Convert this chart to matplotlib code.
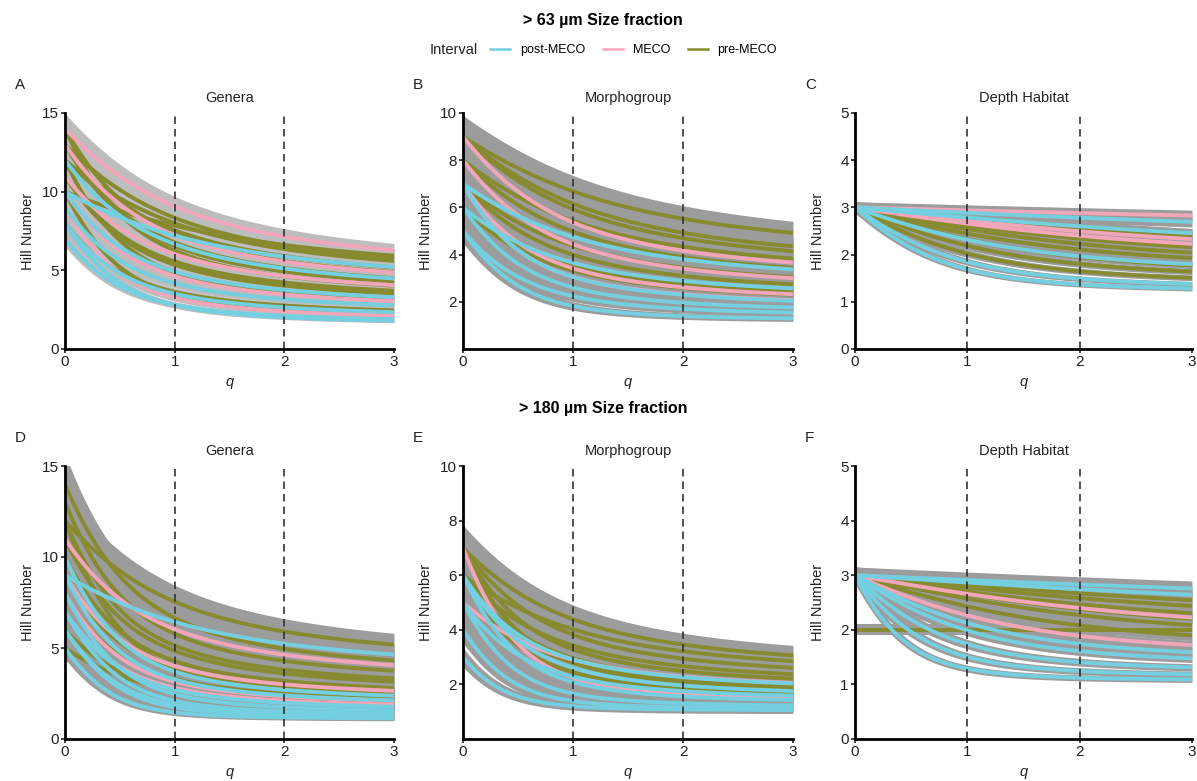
import numpy as np
import matplotlib.pyplot as plt
from matplotlib.lines import Line2D

plt.rcParams['font.family'] = ['Liberation Sans', 'DejaVu Sans']

# eixo q dos perfis de Hill
Q = np.linspace(0, 3, 121)

INTERVALS = ['post-MECO', 'MECO', 'pre-MECO']

# ---- contagens por amostra (> 63 um) ----
GEN63_POST = [
    [100, 35, 12, 4, 2, 1, 1],
    [100, 45, 20, 9, 4, 2, 1, 1],
    [100, 52, 27, 14, 7, 4, 2, 1, 1],
    [100, 58, 34, 20, 11, 7, 4, 2, 1, 1],
    [100, 73, 53, 39, 28, 21, 15, 11, 8, 6],
    [100, 68, 46, 31, 21, 14, 10, 7, 5, 3, 2, 1],
    [100, 30, 10, 4, 2, 1, 1, 1],
]
GEN63_MECO = [
    [100, 40, 16, 6, 3, 1, 1, 1, 1],
    [100, 55, 30, 17, 9, 5, 3, 2, 1, 1],
    [100, 65, 42, 27, 18, 12, 8, 5, 3, 2, 1],
    [100, 70, 49, 34, 24, 17, 12, 8, 6, 4, 3, 2, 1],
    [100, 76, 58, 44, 34, 26, 20, 15, 12, 9, 7, 5, 4, 3],
]
GEN63_PRE = [
    [100, 48, 22, 10, 5, 2, 1, 1],
    [100, 42, 18, 8, 3, 1, 1, 1, 1, 1],
    [100, 55, 30, 17, 9, 5, 3, 2, 1, 1, 1, 1],
    [100, 60, 36, 22, 13, 8, 5, 3, 2, 1, 1],
    [100, 62, 38, 24, 15, 9, 6, 4, 2, 1, 1],
    [100, 66, 44, 29, 19, 13, 8, 6, 4, 3, 2, 1, 1],
    [100, 70, 49, 34, 24, 17, 12, 8, 6, 4, 3, 2, 1, 1],
    [100, 72, 52, 37, 27, 19, 14, 10, 7, 5, 4, 3],
    [100, 74, 55, 41, 30, 22, 16, 12, 9, 7, 5, 4],
    [100, 75, 56, 42, 31, 23, 17, 13, 10, 7, 5, 4, 3],
    [100, 77, 59, 45, 35, 27, 21, 16, 12, 9],
    [100, 64, 41, 26, 17, 11, 7, 5, 3, 2, 1, 1, 1, 1],
    [100, 68, 46, 31, 21, 14, 10, 7, 5, 3, 2, 1, 1],
]

MOR63_POST = [
    [100, 12, 4, 2, 1],
    [100, 22, 8, 3, 1],
    [100, 30, 10, 4, 2, 1],
    [100, 38, 15, 6, 3, 1, 1],
    [100, 50, 25, 12, 6, 3],
    [100, 60, 36, 22, 13, 8, 5],
]
MOR63_MECO = [
    [100, 40, 15, 6, 3, 1, 1],
    [100, 45, 20, 9, 4, 2, 1],
    [100, 55, 30, 17, 9, 5, 3, 2],
    [100, 62, 38, 24, 15, 9, 6, 4, 2],
]
MOR63_PRE = [
    [100, 45, 20, 9, 4, 2],
    [100, 48, 23, 11, 5, 3],
    [100, 52, 27, 14, 7, 4, 2],
    [100, 56, 31, 18, 10, 6, 3],
    [100, 60, 36, 22, 13, 8, 5, 3],
    [100, 64, 41, 26, 17, 11, 7, 5],
    [100, 68, 46, 31, 21, 14, 10, 7, 5],
    [100, 72, 52, 37, 27, 19, 14, 10, 7],
    [100, 66, 44, 29, 19, 13, 8, 6, 4],
]

DEP63_POST = [[100, 70, 50], [100, 12, 6], [100, 16, 8], [100, 35, 15], [100, 55, 40]]
DEP63_MECO = [[100, 80, 60], [100, 50, 35], [100, 48, 30]]
DEP63_PRE = [[100, 22, 10], [100, 26, 14], [100, 30, 18], [100, 38, 20],
             [100, 40, 25], [100, 45, 28], [100, 55, 35], [100, 58, 38]]

# ---- contagens por amostra (> 180 um) ----
GEN180_POST = [
    [100, 5, 2, 1, 1],
    [100, 8, 3, 2, 1, 1],
    [100, 15, 5, 2, 1, 1, 1],
    [100, 22, 7, 3, 1, 1, 1, 1],
    [100, 30, 10, 4, 2, 1, 1],
    [100, 40, 16, 6, 3, 1, 1, 1, 1],
    [100, 45, 20, 9, 4, 2, 1, 1, 1, 1],
    [100, 70, 49, 34, 24, 17, 12, 8, 6],
    [100, 12, 4, 2, 1, 1],
]
GEN180_MECO = [
    [100, 35, 12, 4, 2, 1, 1],
    [100, 50, 25, 12, 6, 3, 2, 1, 1],
    [100, 65, 42, 27, 18, 12, 8, 5, 3, 2, 1],
    [100, 40, 15, 6, 3, 1, 1, 1],
]
GEN180_PRE = [
    [100, 36, 13, 5, 2],
    [100, 42, 18, 8, 3, 1, 1, 1],
    [100, 48, 23, 11, 5, 3, 1, 1, 1],
    [100, 52, 27, 14, 7, 4, 2, 1, 1, 1],
    [100, 56, 31, 18, 10, 6, 3, 2, 1, 1, 1],
    [100, 58, 34, 20, 11, 7, 4, 2, 1, 1, 1, 1],
    [100, 62, 38, 24, 15, 9, 6, 4, 2, 1, 1, 1, 1],
    [100, 66, 44, 29, 19, 13, 8, 6, 4, 3, 2, 1, 1, 1],
    [100, 72, 52, 37, 27, 19, 14, 10, 7, 5, 4, 3],
    [100, 45, 20, 9, 4, 2, 1, 1, 1, 1, 1, 1],
    [100, 30, 12, 5, 2, 1],
]

MOR180_POST = [
    [100, 3, 1],
    [100, 5, 2, 1],
    [100, 10, 3, 1, 1],
    [100, 18, 5, 2, 1, 1],
    [100, 25, 8, 3, 1],
    [100, 30, 10, 4, 2, 1],
    [100, 40, 15, 6, 2, 1],
]
MOR180_MECO = [[100, 20, 6, 2, 1, 1, 1], [100, 40, 16, 6, 3]]
MOR180_PRE = [
    [100, 28, 9, 3, 1, 1],
    [100, 33, 12, 4, 2, 1, 1],
    [100, 38, 15, 6, 3, 1],
    [100, 42, 18, 8, 3, 2, 1],
    [100, 46, 21, 10, 5, 2],
    [100, 50, 25, 12, 6, 3, 2],
    [100, 54, 29, 16, 9, 5],
    [100, 56, 32, 18, 10, 6, 3],
    [100, 35, 14, 6, 3],
]

DEP180_POST = [[100, 72, 55], [100, 65, 48], [100, 25, 12], [100, 20, 10],
               [100, 14, 6], [100, 8, 4], [100, 4, 2]]
DEP180_MECO = [[100, 48, 30], [100, 30, 15]]
DEP180_PRE = [[100, 100], [100, 36, 20], [100, 42, 26], [100, 46, 30],
              [100, 52, 32], [100, 56, 38], [100, 62, 42]]

# largura relativa da faixa de incerteza por painel
BAND_A, BAND_B, BAND_C = 0.07, 0.10, 0.04
BAND_D, BAND_E, BAND_F = 0.12, 0.12, 0.05

CORES = {'post-MECO': '#74cfe0', 'MECO': '#f2a6b9', 'pre-MECO': '#878a2f'}
CINZA = '#9c9c9c'
CINZA_CLARO = '#bdbdbd'

W, H = 1197, 781


def hill_profile(counts, q_values):
    """Numero de Hill de ordem q para um vetor de contagens"""
    p = np.asarray(counts, dtype=float)
    p = p[p > 0]
    p = p / p.sum()
    perfil = []
    for q in q_values:
        if np.isclose(q, 1.0):
            perfil.append(np.exp(-np.sum(p * np.log(p))))
        else:
            perfil.append(np.sum(p ** q) ** (1.0 / (1.0 - q)))
    return np.array(perfil)


def caixa(x0, x1, y_top, y_bot):
    return [x0 / W, 1 - y_bot / H, (x1 - x0) / W, (y_bot - y_top) / H]


colunas = [(65, 394), (463, 793), (855, 1192)]
linhas = [(113, 349), (466, 739)]

paineis = [
    ('A', 'Genera', 0, 0, (GEN63_POST, GEN63_MECO, GEN63_PRE), BAND_A, CINZA_CLARO, 15, [0, 5, 10, 15]),
    ('B', 'Morphogroup', 0, 1, (MOR63_POST, MOR63_MECO, MOR63_PRE), BAND_B, CINZA, 10, [2, 4, 6, 8, 10]),
    ('C', 'Depth Habitat', 0, 2, (DEP63_POST, DEP63_MECO, DEP63_PRE), BAND_C, CINZA, 5, [0, 1, 2, 3, 4, 5]),
    ('D', 'Genera', 1, 0, (GEN180_POST, GEN180_MECO, GEN180_PRE), BAND_D, CINZA, 15, [0, 5, 10, 15]),
    ('E', 'Morphogroup', 1, 1, (MOR180_POST, MOR180_MECO, MOR180_PRE), BAND_E, CINZA, 10, [2, 4, 6, 8, 10]),
    ('F', 'Depth Habitat', 1, 2, (DEP180_POST, DEP180_MECO, DEP180_PRE), BAND_F, CINZA, 5, [0, 1, 2, 3, 4, 5]),
]

fig = plt.figure(figsize=(W / 100, H / 100), dpi=100)

for letra, titulo, lin, col, grupos, banda, cor_banda, ymax, yticks in paineis:
    x0, x1 = colunas[col]
    yt, yb = linhas[lin]
    ax = fig.add_axes(caixa(x0, x1, yt, yb))

    # ordem de desenho: pre-MECO por baixo, post-MECO por cima
    ordem = list(zip(INTERVALS, grupos))[::-1]
    perfis = [(nome, hill_profile(c, Q)) for nome, amostras in ordem for c in amostras]

    for nome, y in perfis:
        ax.fill_between(Q, y * (1 - banda), y * (1 + banda), color=cor_banda, lw=0, zorder=1)
    for nome, y in perfis:
        ax.plot(Q, y, color=CORES[nome], lw=2.8, solid_capstyle='butt', zorder=2)

    for xv in (1, 2):
        ax.axvline(xv, color='#333333', lw=1.2, ls=(0, (4.5, 3)), zorder=3)

    ax.set_xlim(0, 3)
    ax.set_ylim(0, ymax)
    ax.set_xticks([0, 1, 2, 3])
    ax.set_yticks(yticks)
    for s in ('top', 'right'):
        ax.spines[s].set_visible(False)
    for s in ('left', 'bottom'):
        ax.spines[s].set_linewidth(2.0)
        ax.spines[s].set_zorder(4)
    ax.tick_params(length=3, width=1.2, labelsize=11, pad=1.5, colors='#222222')

    ax.set_ylabel('Hill Number', fontsize=10.5, color='#222222')
    ax.yaxis.set_label_coords(-30 / (x1 - x0), 0.5)
    ax.set_xlabel('q', fontsize=10.5, style='italic', color='#222222')
    ax.xaxis.set_label_coords(0.5, -26 / (yb - yt))

    fig.text((x0 + x1) / 2 / W, 1 - (yt - 15) / H, titulo, ha='center', va='center',
             fontsize=10.5, color='#222222')
    fig.text((x0 - 50) / W, 1 - (yt - 28) / H, letra, ha='left', va='center',
             fontsize=11, color='#222222')

fig.text(603 / W, 1 - 20 / H, '> 63 µm Size fraction', ha='center', va='center',
         fontsize=11.5, weight='bold')
fig.text(603 / W, 1 - 409 / H, '> 180 µm Size fraction', ha='center', va='center',
         fontsize=11.5, weight='bold')

# legenda
fig.text(430 / W, 1 - 50 / H, 'Interval', ha='left', va='center', fontsize=10.5, color='#222222')
handles = [Line2D([0], [0], color=CORES[n], lw=1.8) for n in INTERVALS]
fig.legend(handles, INTERVALS, loc='center left', bbox_to_anchor=(490 / W, 1 - 50 / H),
           ncol=3, frameon=False, fontsize=9, handlelength=1.6, handletextpad=0.8,
           columnspacing=1.4, borderpad=0, borderaxespad=0)

fig.savefig('out.png', dpi=100)
